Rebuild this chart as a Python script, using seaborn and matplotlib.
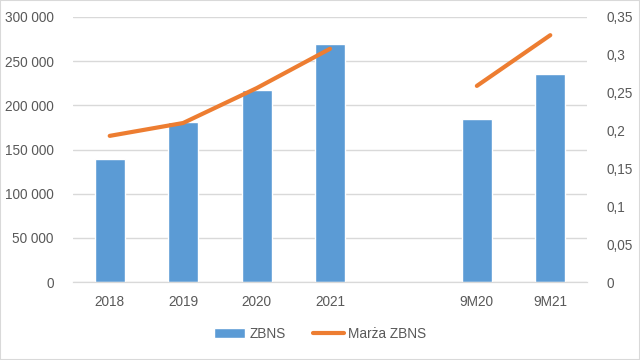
import numpy as np
import pandas as pd
import matplotlib.pyplot as plt
import matplotlib.ticker as mticker
from matplotlib.patches import Patch
from matplotlib.lines import Line2D
import seaborn as sns

categories = ["2018", "2019", "2020", "2021", "", "9M20", "9M21"]
zbns = [139000, 181000, 217000, 269000, np.nan, 184000, 236000]
marza = [0.193, 0.21, 0.256, 0.308, np.nan, 0.259, 0.326]
segments = [1, 1, 1, 1, 0, 2, 2]

bar_color = "#5B9BD5"
line_color = "#ED7D31"
text_color = "#595959"
grid_color = "#D9D9D9"

sns.set_style("white")
plt.rcParams["font.family"] = ["Liberation Sans", "DejaVu Sans"]

df = pd.DataFrame({"cat": categories, "zbns": zbns, "marza": marza,
                   "pos": np.arange(len(categories)), "seg": segments})

fig = plt.figure(figsize=(6.4, 3.6), dpi=100)
ax = fig.add_axes([73 / 640, 1 - 282 / 360, (587 - 73) / 640, (282 - 17) / 360])

sns.barplot(data=df, x="cat", y="zbns", order=categories, color=bar_color,
            width=0.41, saturation=1, ax=ax)
ax.set_ylim(0, 300000)
ax.set_yticks(np.arange(0, 300001, 50000))
ax.yaxis.set_major_formatter(mticker.FuncFormatter(lambda v, p: f"{int(v):,}".replace(",", " ")))
ax.set_xlim(-0.5, len(categories) - 0.5)
ax.grid(axis="y", color=grid_color, linewidth=1)
ax.set_axisbelow(True)
ax.set_xlabel("")
ax.set_ylabel("")

ax2 = ax.twinx()
line_df = df[df["seg"] > 0]
for s, part in line_df.groupby("seg"):
    sns.lineplot(data=part, x="pos", y="marza", color=line_color, linewidth=3,
                 solid_capstyle="round", ax=ax2)
ax2.set_ylim(0, 0.35)
ax2.set_yticks(np.arange(0, 0.351, 0.05))
ax2.yaxis.set_major_formatter(mticker.FuncFormatter(
    lambda v, p: "0" if abs(v) < 1e-9 else f"{v:.2f}".rstrip("0").replace(".", ",")))
ax2.set_xlim(-0.5, len(categories) - 0.5)
ax2.set_ylabel("")

for a in (ax, ax2):
    for side in ("top", "left", "right"):
        a.spines[side].set_visible(False)
    a.spines["bottom"].set_color(grid_color)
    a.tick_params(length=0, labelsize=9.8, labelcolor=text_color)
ax.tick_params(axis="x", pad=9)
ax.tick_params(axis="y", pad=14)
ax2.tick_params(axis="y", pad=14)

handles = [Patch(facecolor=bar_color, label="ZBNS"),
           Line2D([0], [0], color=line_color, linewidth=3, label="Marża ZBNS")]
fig.legend(handles=handles, loc="center", bbox_to_anchor=(0.5, 1 - 334 / 360), ncol=2,
           frameon=False, fontsize=9.8, labelcolor=text_color, handlelength=2.3,
           columnspacing=2.0, handletextpad=0.3)

fig.patches.append(plt.Rectangle((0, 0), 1, 1, transform=fig.transFigure, fill=False,
                                 edgecolor="#D9D9D9", linewidth=1.5))
fig.savefig("out.png", dpi=100)
